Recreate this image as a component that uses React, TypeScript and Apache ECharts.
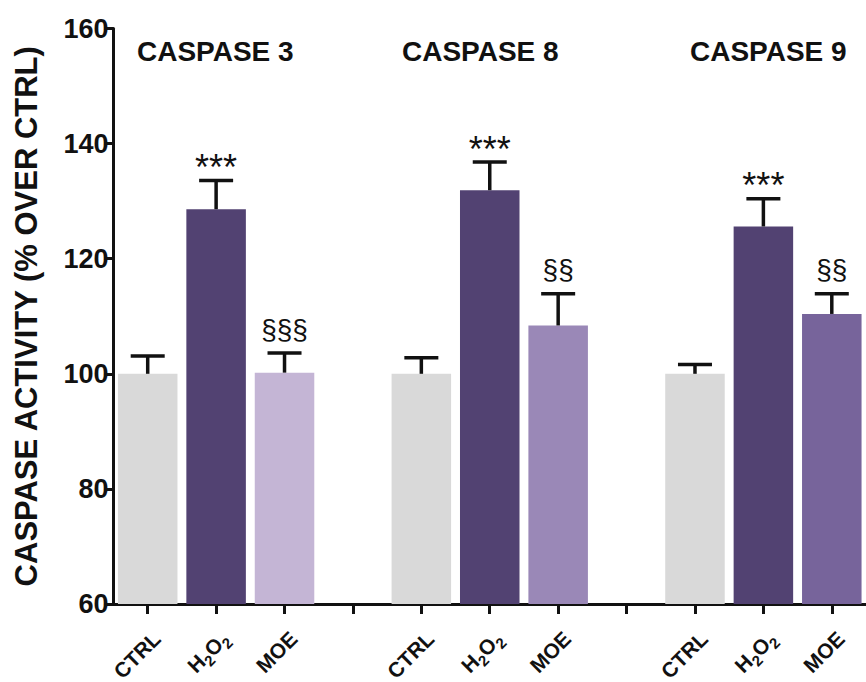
import React, { useEffect, useRef } from "react";
import * as echarts from "echarts";

const categories = ["CTRL", "H2O2", "MOE", "", "CTRL", "H2O2", "MOE", "", "CTRL", "H2O2", "MOE"];
const values: (number | null)[] = [100, 128.6, 100.2, null, 100, 131.9, 108.4, null, 100, 125.6, 110.4];
const errors: (number | null)[] = [3.1, 5.0, 3.4, null, 2.8, 4.9, 5.5, null, 1.6, 4.8, 3.5];
const annotations = ["", "***", "§§§", "", "", "***", "§§", "", "", "***", "§§"];
const barColors = ["#d9d9d9", "#524272", "#c4b5d5", "#ffffff", "#d9d9d9", "#524272", "#9a88b7", "#ffffff", "#d9d9d9", "#524272", "#77649b"];
const panelTitles = ["CASPASE 3", "CASPASE 8", "CASPASE 9"];
const panelTitleX = [137, 402, 690];
const yTicks = { min: 60, max: 160, interval: 20 };

const FONT = "'Liberation Sans', Arial, Helvetica, sans-serif";
const LABEL_SIZE = 21;
const SUB_SIZE = 15;

function pieces(c: string): [string, boolean][] {
  if (c === "H2O2") return [["H", false], ["2", true], ["O", false], ["2", true]];
  return [[c, false]];
}

let measureCtx: CanvasRenderingContext2D | null = null;
function textWidth(t: string, size: number) {
  if (!measureCtx) measureCtx = document.createElement("canvas").getContext("2d");
  if (!measureCtx) return t.length * size * 0.65;
  measureCtx.font = `bold ${size}px ${FONT}`;
  return measureCtx.measureText(t).width;
}

export default function App() {
  const ref = useRef<HTMLDivElement>(null);
  useEffect(() => {
    if (!ref.current) return;
    const chart = echarts.init(ref.current, null, { renderer: "svg" });
    const errData = values
      .map((v, i) => (v == null || errors[i] == null ? null : [i, v, errors[i] as number]))
      .filter((d) => d != null);
    chart.setOption({
      animation: false,
      backgroundColor: "#ffffff",
      grid: { left: 113.5, right: -10, top: 28.5, bottom: 78, containLabel: false },
      xAxis: {
        type: "category",
        data: categories,
        axisLine: { show: true, lineStyle: { color: "#111", width: 3 } },
        axisTick: { show: true, alignWithLabel: true, interval: 0, length: 10, lineStyle: { color: "#111", width: 3 } },
        axisLabel: { show: false },
        splitLine: { show: false },
      },
      yAxis: {
        type: "value",
        min: yTicks.min,
        max: yTicks.max,
        interval: yTicks.interval,
        name: "CASPASE ACTIVITY (% OVER CTRL)",
        nameLocation: "middle",
        nameGap: 72,
        nameTextStyle: { fontFamily: FONT, fontWeight: "bold", fontSize: 31, color: "#111" },
        axisLine: { show: true, lineStyle: { color: "#111", width: 3 } },
        axisTick: { show: true, length: 9, lineStyle: { color: "#111", width: 3 } },
        axisLabel: { margin: 5, color: "#111", fontFamily: FONT, fontWeight: "bold", fontSize: 27 },
        splitLine: { show: false },
      },
      series: [
        {
          type: "bar",
          data: values.map((v, i) => ({ value: v, itemStyle: { color: barColors[i] } })),
          barCategoryGap: "13%",
          z: 2,
        },
        {
          type: "custom",
          data: errData,
          z: 3,
          clip: false,
          renderItem: (params: any, api: any) => {
            const i = api.value(0);
            const v = api.value(1);
            const e = api.value(2);
            const top = api.coord([i, v]);
            const cap = api.coord([i, v + e]);
            const half = 17;
            const ann = annotations[i] || "";
            const isStar = ann.indexOf("*") >= 0;
            const children: any[] = [
              { type: "line", shape: { x1: top[0], y1: top[1], x2: cap[0], y2: cap[1] }, style: { stroke: "#111", lineWidth: 3.5 } },
              { type: "line", shape: { x1: cap[0] - half, y1: cap[1], x2: cap[0] + half, y2: cap[1] }, style: { stroke: "#111", lineWidth: 3.5 } },
            ];
            if (ann) {
              children.push({
                type: "text",
                style: {
                  text: ann,
                  x: cap[0],
                  y: isStar ? cap[1] - 13 : cap[1] - 24,
                  align: "center",
                  verticalAlign: "middle",
                  fontFamily: FONT,
                  fontSize: isStar ? 36 : 28,
                  fill: "#111",
                },
              });
            }
            return { type: "group", children };
          },
        },
      ],
    });

    const labelGraphics: any[] = [];
    categories.forEach((c, i) => {
      if (!c) return;
      const p = chart.convertToPixel({ xAxisIndex: 0, yAxisIndex: 0 }, [i, yTicks.min]) as number[];
      const parts = pieces(c);
      const widths = parts.map(([t, sub]) => textWidth(t, sub ? SUB_SIZE : LABEL_SIZE));
      const total = widths.reduce((a, b) => a + b, 0);
      let cursor = -total;
      const children = parts.map(([t, sub], k) => {
        const el = {
          type: "text",
          x: cursor,
          y: sub ? 7 : 0,
          style: {
            text: t,
            align: "left",
            verticalAlign: "middle",
            fontFamily: FONT,
            fontWeight: "bold",
            fontSize: sub ? SUB_SIZE : LABEL_SIZE,
            fill: "#111",
          },
        };
        cursor += widths[k];
        return el;
      });
      labelGraphics.push({
        type: "group",
        x: p[0] + 9,
        y: p[1] + 31,
        rotation: Math.PI / 4,
        z: 10,
        children,
      });
    });

    chart.setOption({
      graphic: [
        ...panelTitles.map((t, k) => ({
          type: "text",
          left: panelTitleX[k],
          top: 37,
          style: { text: t, fontFamily: FONT, fontWeight: "bold", fontSize: 28, fill: "#111" },
        })),
        ...labelGraphics,
      ],
    });
    return () => chart.dispose();
  }, []);
  return <div ref={ref} style={{ position: "absolute", left: 0, top: 0, width: 866, height: 682 }} />;
}
